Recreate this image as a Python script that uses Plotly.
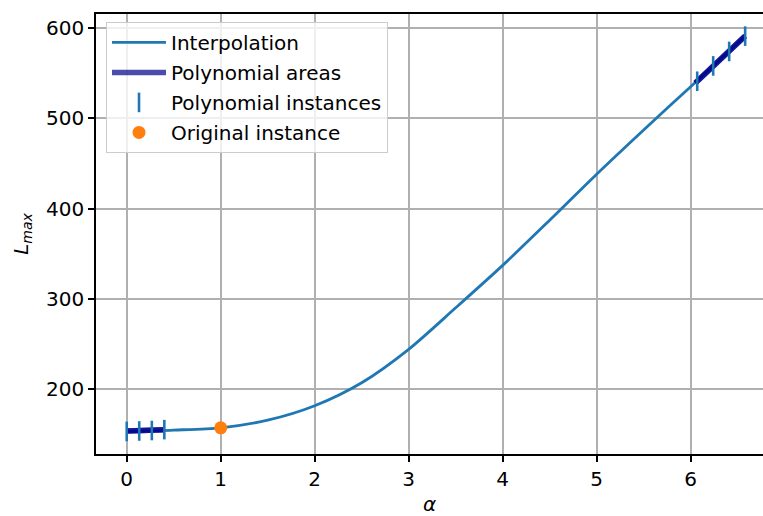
import plotly.graph_objects as go

# Interpolation curve
interp_x = [0, 0.5, 1, 1.5, 2, 2.5, 3, 3.5, 4, 4.5, 5, 5.5, 6, 6.58]
interp_y = [153, 154.5, 157, 165.5, 181.5, 207, 244, 290, 337, 387, 438, 487, 535, 591]

# Polynomial areas
area1_x = [0, 0.4]
area1_y = [153.5, 155]
area2_x = [6.05, 6.58]
area2_y = [539, 591]

# Polynomial instances
inst_x = [0, 0.133, 0.267, 0.4, 6.07, 6.24, 6.41, 6.58]
inst_y = [153, 153.5, 154, 155, 541, 558, 574, 591]

# Original instance
orig_x = [1]
orig_y = [157]

FONT = "DejaVu Sans"
FS = 20
BLUE = "#1f77b4"
ORANGE = "#ff7f0e"
AREA = "rgba(0,0,139,0.7)"

fig = go.Figure()
fig.add_trace(go.Scatter(x=interp_x, y=interp_y, mode="lines", name="Interpolation",
                         line=dict(color=BLUE, width=2.8, shape="spline", smoothing=0.8),
                         legendgroup="a"))
fig.add_trace(go.Scatter(x=area1_x, y=area1_y, mode="lines", name="Polynomial areas",
                         line=dict(color=AREA, width=5.5), legendgroup="b"))
fig.add_trace(go.Scatter(x=area1_x, y=area1_y, mode="lines", showlegend=False,
                         line=dict(color=AREA, width=5.5), legendgroup="b"))
fig.add_trace(go.Scatter(x=area2_x, y=area2_y, mode="lines", showlegend=False,
                         line=dict(color=AREA, width=5.5), legendgroup="b"))
fig.add_trace(go.Scatter(x=area2_x, y=area2_y, mode="lines", showlegend=False,
                         line=dict(color=AREA, width=5.5), legendgroup="b"))
fig.add_trace(go.Scatter(x=inst_x, y=inst_y, mode="markers", name="Polynomial instances",
                         marker=dict(symbol="line-ns", size=14,
                                     line=dict(color=BLUE, width=2.6)),
                         legendgroup="c"))
fig.add_trace(go.Scatter(x=orig_x, y=orig_y, mode="markers", name="Original instance",
                         marker=dict(color=ORANGE, size=13, line=dict(width=0)),
                         legendgroup="d"))

fig.update_layout(
    width=763, height=516,
    margin=dict(l=96, r=0, t=14, b=62),
    paper_bgcolor="white", plot_bgcolor="white",
    font=dict(family=FONT, size=FS, color="black"),
    showlegend=True,
    legend=dict(x=0.015, y=0.982, xanchor="left", yanchor="top",
                bgcolor="rgba(255,255,255,0.8)", bordercolor="#cccccc", borderwidth=1,
                font=dict(family=FONT, size=FS, color="black"),
                traceorder="grouped", tracegroupgap=1, itemwidth=54),
)
fig.update_xaxes(
    range=[-0.327, 6.77], tickvals=[0, 1, 2, 3, 4, 5, 6],
    showgrid=True, gridcolor="#b0b0b0", gridwidth=1.5, zeroline=False,
    showline=True, linecolor="black", linewidth=1.5, mirror=True,
    ticks="outside", ticklen=6, tickwidth=1.5, tickcolor="black",
    title=dict(text="<i>α</i>", font=dict(family=FONT, size=FS), standoff=12),
)
fig.update_yaxes(
    range=[128, 615.5], tickvals=[200, 300, 400, 500, 600],
    showgrid=True, gridcolor="#b0b0b0", gridwidth=1.5, zeroline=False,
    showline=True, linecolor="black", linewidth=1.5, mirror=False,
    ticks="outside", ticklen=6, tickwidth=1.5, tickcolor="black",
    title=dict(text="<i>L</i><sub><i>max</i></sub>", font=dict(family=FONT, size=FS), standoff=12),
)

fig.write_html("out.html")
